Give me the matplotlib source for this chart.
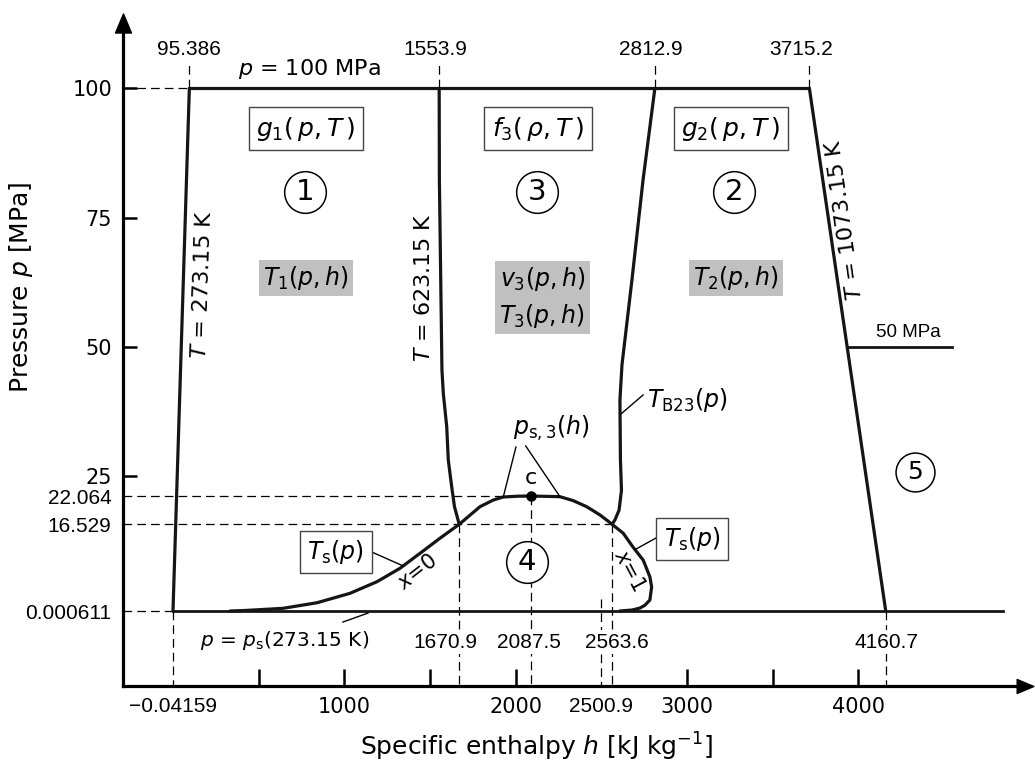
import matplotlib
matplotlib.use('Agg')
import matplotlib.pyplot as plt
from matplotlib.path import Path
import numpy as np

plt.rcParams['font.family'] = ['DejaVu Sans']
plt.rcParams['mathtext.fontset'] = 'dejavusans'
NARROW = ['Liberation Sans', 'DejaVu Sans']

# ---- values (h in kJ/kg, p in MPa) ----
iso273_h = [95.386, -0.04159]
iso273_p = [100.0, 0.000611]

iso1073_h = [3715.2, 4160.7]
iso1073_p = [100.0, 0.000611]

iso623_h = [1553.9, 1555, 1563, 1570, 1578, 1598, 1607, 1627, 1643, 1670.9]
iso623_p = [100.0, 82.3, 62.9, 45.5, 41.0, 34.5, 28.1, 23.4, 20.0, 16.529]

b23_h = [2812.9, 2744, 2679, 2621, 2609, 2612, 2618, 2604, 2580, 2563.6]
b23_p = [100.0, 82.3, 62.9, 46.5, 39.7, 28.1, 22.9, 19.3, 17.4, 16.529]

sat_h = [333, 420, 642, 841, 1033, 1191, 1325, 1442, 1558, 1670.9, 1792, 1870,
         1928, 2008, 2087.5, 2172, 2259, 2337, 2415, 2493, 2563.6, 2629, 2685,
         2745, 2784, 2794, 2784, 2755, 2726, 2680, 2609]
sat_p = [0.000611, 0.1, 0.51, 1.58, 3.37, 5.59, 8.14, 11.0, 13.86, 16.529, 19.97,
         21.28, 21.87, 22.02, 22.064, 22.0, 21.93, 21.15, 19.97, 18.35, 16.529,
         14.8, 12.2, 9.7, 6.5, 4.6, 2.1, 1.1, 0.57, 0.19, 0.000611]

p100_h = [95.386, 3715.2]
r5_h = [3938, 4548]
trip_h = [-0.04159, 4845]
p_max, p_trip, p_r5 = 100.0, 0.000611, 50.0
crit_h, crit_p = 2087.5, 22.064

top_marks = [95.386, 1553.9, 2812.9, 3715.2]
top_labels = ['95.386', '1553.9', '2812.9', '3715.2']
low_marks = [-0.04159, 1670.9, 2087.5, 2500.9, 2563.6, 4160.7]
low_from = [0.000611, 16.529, 22.064, 2.3, 16.529, 0.000611]
in_marks = [1670.9, 2087.5, 2563.6, 4160.7]
in_labels = ['1670.9', '2087.5', '2563.6', '4160.7']
hline_p = [100.0, 22.064, 16.529, 0.000611]
hline_h = [95.386, 2087.5, 2563.6, -0.04159]

x_major = [1000, 2000, 3000, 4000]
x_tickonly = [500, 1500, 3500]
x_extra = [-0.04159, 2500.9]
x_extra_labels = ['\u22120.04159', '2500.9']
y_major = [25, 50, 75, 100]
y_extra = [0.000611, 16.529, 22.064]
y_extra_labels = ['0.000611', '16.529', '22.064']

# the pressure axis of the schematic is not uniform below 25 MPa:
# calibration of the axis (pressure -> axis units) taken from its tick marks
axis_p = [-100, 0.000611, 16.529, 22.064, 25, 100, 300]
axis_u = [-1131, -611, -524.3, -496, -476, -88.5, 944.8]


def p_fwd(p):
    return np.interp(p, axis_p, axis_u)


def p_inv(u):
    return np.interp(u, axis_u, axis_p)


# ---- figure ----
W, H = 1035, 763
fig = plt.figure(figsize=(W / 100, H / 100), dpi=100)
ax = fig.add_axes([122.5 / W, (H - 686) / H, (1025 - 122.5) / W, (686 - 22.5) / H])
ax.set_yscale('function', functions=(p_fwd, p_inv))
ax.set_xlim(-294.8, 4973.7)
ax.set_ylim(-14.42, 112.77)

for s in ('top', 'right'):
    ax.spines[s].set_visible(False)
for s in ('left', 'bottom'):
    ax.spines[s].set_linewidth(2.3)

up = Path([(0, 1), (-0.84, -1), (0.84, -1), (0, 1)],
          [Path.MOVETO, Path.LINETO, Path.LINETO, Path.CLOSEPOLY])
right = Path([(1, 0), (-1, 0.84), (-1, -0.84), (1, 0)],
             [Path.MOVETO, Path.LINETO, Path.LINETO, Path.CLOSEPOLY])
ax.plot(0, 1, marker=up, ms=13.7, color='k', transform=ax.transAxes, clip_on=False)
ax.plot(1, 0, marker=right, ms=12, color='k', transform=ax.transAxes, clip_on=False)

# ticks
ax.set_xticks(x_major + x_tickonly, labels=[str(v) for v in x_major] + [''] * len(x_tickonly))
ax.set_xticks(x_extra, labels=x_extra_labels, minor=True)
ax.set_yticks(y_major, labels=[str(v) for v in y_major])
ax.set_yticks(y_extra, labels=y_extra_labels, minor=True)
ax.tick_params(axis='x', which='major', direction='in', length=12, width=1.8, pad=8, labelsize=15)
ax.tick_params(axis='x', which='minor', direction='in', length=0, pad=8, labelsize=15)
ax.tick_params(axis='y', which='major', direction='in', length=10, width=1.8, pad=7.5, labelsize=15)
ax.tick_params(axis='y', which='minor', direction='in', length=0, pad=8, labelsize=15)
for t in ax.get_xticklabels(minor=True) + ax.get_yticklabels(minor=True):
    t.set_fontfamily(NARROW)

# dashed helper lines
dash = dict(color='k', lw=0.9, ls=(0, (7, 4)))
ax.hlines(hline_p, ax.get_xlim()[0], hline_h, **dash)
ax.vlines(top_marks, p_max, 105.3, **dash)
ax.vlines(low_marks, low_from, ax.get_ylim()[0], **dash)

# region boundaries
main = dict(color='#151515', lw=2.3, solid_joinstyle='round', solid_capstyle='round')
ax.plot(p100_h, [p_max, p_max], **main)
ax.plot(iso273_h, iso273_p, **main)
ax.plot(iso1073_h, iso1073_p, **main)
ax.plot(iso623_h, iso623_p, **main)
ax.plot(b23_h, b23_p, **main)
ax.plot(sat_h, sat_p, **main)
ax.plot(trip_h, [p_trip, p_trip], color='#151515', lw=2.0)
ax.plot(r5_h, [p_r5, p_r5], color='#151515', lw=2.0)
ax.plot(crit_h, crit_p, 'o', color='k', ms=6.5)

# value labels at the top and inside near the bottom
for hv, lab, dx in zip(top_marks, top_labels, [0, -3, -3, -6]):
    ax.annotate(lab, (hv, 107.45), xytext=(dx, 0), textcoords='offset points',
                ha='center', va='center', fontsize=15, family=NARROW)
for hv, lab, dx in zip(in_marks, in_labels, [-10, -1.5, 3.5, 0.5]):
    ax.annotate(lab, (hv, -5.96), xytext=(dx, 0), textcoords='offset points',
                ha='center', va='center', fontsize=15, family=NARROW,
                bbox=dict(boxstyle='square,pad=0.1', fc='white', ec='none'))

ax.text(794, 103.77, '$p$ = 100 MPa', ha='center', va='center', fontsize=16)

# function boxes
box = dict(boxstyle='square,pad=0.3', fc='white', ec='#444444', lw=1)
gray = dict(boxstyle='square,pad=0.18', fc='#c0c0c0', ec='none')
ax.text(776, 92.16, r'$g_1(\,p,T\,)$', ha='center', va='center', fontsize=18, bbox=box)
ax.text(2131, 92.16, r'$f_3(\,\rho,T\,)$', ha='center', va='center', fontsize=18, bbox=box)
ax.text(3257, 92.16, r'$g_2(\,p,T\,)$', ha='center', va='center', fontsize=18, bbox=box)
ax.text(776, 63.3, r'$T_1(p,h)$', ha='center', va='center', fontsize=17, bbox=gray)
ax.text(2157, 59.55, '$v_3(p,h)$\n$T_3(p,h)$', ha='center', va='center', fontsize=17,
        linespacing=1.45, bbox=gray)
ax.text(3287, 63.3, r'$T_2(p,h)$', ha='center', va='center', fontsize=17, bbox=gray)

# region numbers
for hv, pv, num, ms, fs in [(771, 79.97, '1', 30, 21), (2125, 79.97, '3', 30, 21),
                            (3275, 79.97, '2', 30, 21), (2067, 9.34, '4', 30, 21),
                            (4332, 25.77, '5', 28, 18)]:
    ax.plot(hv, pv, 'o', ms=ms, mfc='white', mec='k', mew=1.1)
    ax.text(hv, pv, num, ha='center', va='center', fontsize=fs)

# isotherm labels
ax.text(175, 61.97, '$T$ = 273.15 K', rotation=88, ha='center', va='center', fontsize=16)
ax.text(1465, 61.39, '$T$ = 623.15 K', rotation=90, ha='center', va='center', fontsize=16)
ax.text(3923, 74.55, '$T$ = 1073.15 K', rotation=98, ha='center', va='center', fontsize=16)
ax.text(4291, 52.68, '50 MPa', ha='center', va='center', fontsize=13.5, family=NARROW)

# curve labels with leader lines
lead = dict(color='k', lw=1)
ax.text(2767, 39.71, r'$T_\mathrm{B23}(p)$', ha='left', va='center', fontsize=17)
ax.plot([2615, 2744], [37.0, 40.68], **lead)
ax.text(2207, 34.29, r'$p_\mathrm{s,3}(h)$', ha='center', va='center', fontsize=17)
ax.plot([2002, 1928], [30.61, 21.87], **lead)
ax.plot([2059, 2259], [30.81, 21.93], **lead)
ax.text(2090, 24.71, 'c', ha='center', va='center', fontsize=16)
ax.text(951, 11.25, r'$T_\mathrm{s}(p)$', ha='center', va='center', fontsize=17, bbox=box)
ax.plot([1160, 1343], [11.25, 8.6], **lead)
ax.text(3030, 13.73, r'$T_\mathrm{s}(p)$', ha='center', va='center', fontsize=17, bbox=box)
ax.plot([2833, 2697], [14.16, 11.7], **lead)
ax.text(1430, 7.43, '$x$=0', rotation=38, ha='center', va='center', fontsize=15)
ax.text(2662, 7.63, '$x$=1', rotation=-62, ha='center', va='center', fontsize=15)
ax.text(654, -5.58, r'$p$ = $p_\mathrm{s}$(273.15 K)', ha='center', va='center', fontsize=14.5)
ax.plot([992, 1138], [-2.12, -0.4], **lead)

# axis titles
fig.text(21.5 / W, 1 - 287 / H, 'Pressure $p$ [MPa]', rotation=90, ha='center', va='center', fontsize=18)
fig.text(537 / W, 1 - 747 / H, r'Specific enthalpy $h$ [kJ kg$^{-1}$]', ha='center', va='center', fontsize=18)

fig.savefig('out.png', dpi=100)
